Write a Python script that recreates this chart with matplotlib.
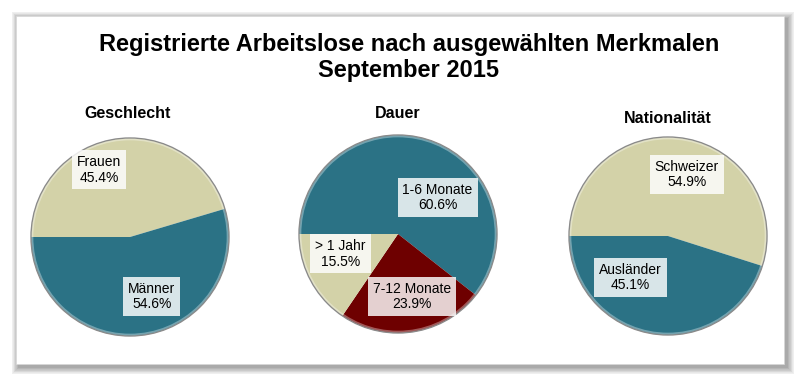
import matplotlib.pyplot as plt
from matplotlib.patches import Rectangle, Circle

# data
titles = ['Geschlecht', 'Dauer', 'Nationalität']
geschlecht_labels = ['Frauen', 'Männer']
geschlecht_values = [45.4, 54.6]
dauer_labels = ['1-6 Monate', '7-12 Monate', '> 1 Jahr']
dauer_values = [60.6, 23.9, 15.5]
nation_labels = ['Schweizer', 'Ausländer']
nation_values = [54.9, 45.1]

TEAL = '#2b7285'
BEIGE = '#d3d2a8'
DARKRED = '#6e0000'

plt.rcParams['font.family'] = ['Liberation Sans', 'DejaVu Sans']

W, H = 800, 380
fig = plt.figure(figsize=(8, 3.8), dpi=100)
fig.patch.set_facecolor('white')

# panel with soft shadow (pixel coords -> figure fraction)
px, py, pw, ph = 16, 16, 768, 348
for i in range(12, 0, -1):
    fig.patches.append(Rectangle(((px - i * 0.6 + 3) / W, (H - py - ph - i * 0.6 - 3) / H),
                                 (pw + i * 1.2) / W, (ph + i * 1.2) / H,
                                 transform=fig.transFigure, facecolor='black',
                                 alpha=0.03, edgecolor='none', zorder=0))
fig.patches.append(Rectangle((px / W, (H - py - ph) / H), pw / W, ph / H,
                             transform=fig.transFigure, facecolor='white',
                             edgecolor='#d8d8d8', lw=0.5, zorder=1))

fig.text(0.511, 1 - 44 / H, 'Registrierte Arbeitslose nach ausgewählten Merkmalen',
         ha='center', va='center', fontsize=17, fontweight='bold')
fig.text(0.511, 1 - 70 / H, 'September 2015', ha='center', va='center',
         fontsize=17, fontweight='bold')

pies = [
    (geschlecht_labels, geschlecht_values, [BEIGE, TEAL], (130, 237), (128, 114),
     [(-0.31, 0.68), (0.22, -0.6)]),
    (dauer_labels, dauer_values, [TEAL, DARKRED, BEIGE], (398, 234), (398, 114),
     [(0.40, 0.37), (0.14, -0.63), (-0.58, -0.2)]),
    (nation_labels, nation_values, [BEIGE, TEAL], (668, 236), (668, 118),
     [(0.19, 0.62), (-0.38, -0.42)]),
]

R = 99
lim = 1.04
side = 2 * R * lim
for (title, (labels, values, colors, (cx, cy), (tx, ty), lpos)) in zip(titles, pies):
    ax = fig.add_axes([(cx - side / 2) / W, (H - cy - side / 2) / H, side / W, side / H])
    ax.set_zorder(2)
    ax.pie(values, colors=colors, startangle=180, counterclock=False,
           wedgeprops=dict(edgecolor='none', linewidth=0))
    ax.add_patch(Circle((0, 0), 1.0, facecolor='none', edgecolor='#8a8a8a', lw=1.0))
    ax.add_patch(Circle((0, 0), 0.985, facecolor='none', edgecolor='white', lw=1.2, alpha=0.35))
    for lab, val, (lx, ly) in zip(labels, values, lpos):
        ax.text(lx, ly, f'{lab}\n{val:.1f}%', ha='center', va='center', fontsize=10,
                linespacing=1.15,
                bbox=dict(boxstyle='square,pad=0.35', facecolor='white', alpha=0.82,
                          edgecolor='none'))
    ax.set_xlim(-lim, lim)
    ax.set_ylim(-lim, lim)
    ax.set_aspect('equal')
    ax.axis('off')
    fig.text(tx / W, 1 - ty / H, title, ha='center', va='center', fontsize=11.5,
             fontweight='bold', zorder=3)

fig.savefig('out.png', dpi=100, facecolor='white')
